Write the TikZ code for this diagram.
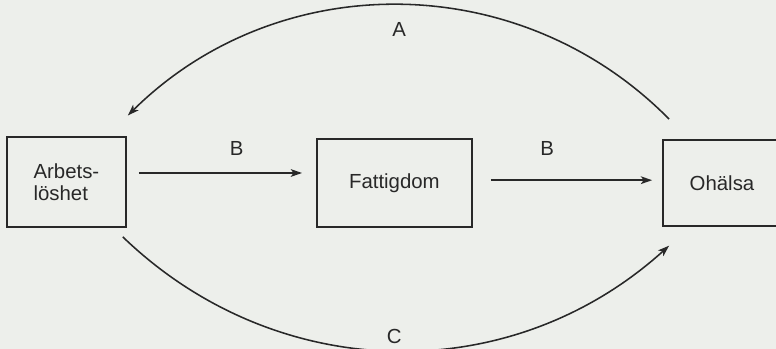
\documentclass[tikz,border=0pt]{standalone}
\usepackage{fontspec}
\setmainfont{Liberation Sans}
\usepackage{tikz}
\usetikzlibrary{arrows.meta,positioning}
\definecolor{paper}{RGB}{237,239,235}
\definecolor{ink}{RGB}{40,40,40}

\begin{document}
\begin{tikzpicture}[
    box/.style={draw=ink, line width=1.3pt, align=left, text=ink, font=\fontsize{14.5}{15}\selectfont},
    arr/.style={-{Stealth[length=8pt, width=5.5pt, inset=2pt]}, draw=ink, line width=1.1pt},
    lbl/.style={text=ink, font=\fontsize{14.5}{15}\selectfont}
]
\useasboundingbox (0,0) rectangle (19.4,8.725);
\fill[paper] (0,0) rectangle (19.4,8.725);

\node[box, minimum width=2.975cm, minimum height=2.25cm] (arb) at (1.66,4.17) {Arbets-\\löshet};
\node[box, minimum width=3.875cm, minimum height=2.2cm] (fat) at (9.86,4.15) {Fattigdom};
\node[box, minimum width=2.95cm, minimum height=2.15cm] (ohal) at (18.05,4.15) {Ohälsa};

\draw[arr] ([xshift=0.3cm,yshift=0.23cm]arb.east) -- node[lbl, pos=0.6, yshift=0.62cm] {B} ([xshift=-0.35cm,yshift=0.23cm]fat.west |- arb.east);
\draw[arr] ([xshift=0.45cm,yshift=0.07cm]fat.east) -- node[lbl, pos=0.35, yshift=0.8cm] {B} ([xshift=-0.25cm,yshift=0.07cm]ohal.west |- fat.east);
\draw[arr] ([xshift=0.175cm,yshift=0.5cm]ohal.north west) to[bend right=45] node[lbl, midway, yshift=-0.62cm] {A} ([xshift=0.025cm,yshift=0.52cm]arb.north east);
\draw[arr] ([xshift=-0.1cm,yshift=-0.22cm]arb.south east) to[bend right=43] node[lbl, midway, yshift=0.36cm] {C} ([xshift=0.175cm,yshift=-0.47cm]ohal.south west);
\end{tikzpicture}
\end{document}
